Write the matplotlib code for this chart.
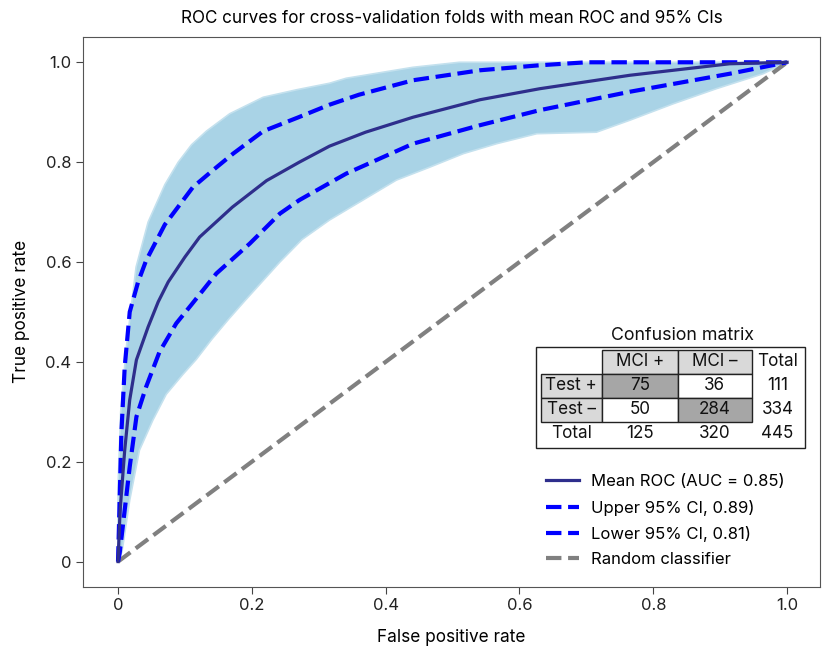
import matplotlib.pyplot as plt
from matplotlib.patches import Rectangle

plt.rcParams['font.family'] = ['Inter', 'DejaVu Sans']

# band of fold curves: outer upper-left edge and outer lower-right edge
band_up_x = [0, 0, 0.004, 0.0125, 0.027, 0.045, 0.07, 0.09, 0.11, 0.132, 0.167, 0.217, 0.267, 0.316, 0.341, 0.441, 0.51, 1.0]
band_up_y = [0, 0.15, 0.3, 0.43, 0.59, 0.68, 0.755, 0.80, 0.835, 0.862, 0.897, 0.93, 0.945, 0.958, 0.968, 0.99, 1.0, 1.0]
band_lo_x = [0, 0.006, 0.0175, 0.032, 0.052, 0.072, 0.097, 0.117, 0.14, 0.165, 0.19, 0.215, 0.242, 0.275, 0.316,
             0.366, 0.416, 0.466, 0.516, 0.566, 0.626, 0.715, 0.765, 0.83, 0.894, 0.964, 1.0]
band_lo_y = [0, 0.02, 0.123, 0.223, 0.283, 0.335, 0.375, 0.405, 0.445, 0.485, 0.523, 0.56, 0.60, 0.645, 0.684,
             0.724, 0.764, 0.79, 0.817, 0.837, 0.857, 0.86, 0.884, 0.917, 0.947, 0.977, 1.0]

# mean ROC
mean_x = [0, 0.003, 0.01, 0.0175, 0.0275, 0.045, 0.06, 0.075, 0.1, 0.122, 0.171, 0.222, 0.271, 0.316, 0.37,
          0.441, 0.541, 0.63, 0.765, 0.914, 1.0]
mean_y = [0, 0.1, 0.223, 0.324, 0.404, 0.47, 0.52, 0.56, 0.61, 0.65, 0.71, 0.763, 0.80, 0.832, 0.86,
          0.89, 0.925, 0.947, 0.974, 0.997, 1.0]

# upper 95% CI
up_x = [0, 0.002, 0.005, 0.01, 0.0175, 0.03, 0.042, 0.07, 0.112, 0.142, 0.172, 0.217, 0.27, 0.316, 0.36,
        0.441, 0.541, 0.63, 0.7, 1.0]
up_y = [0, 0.1, 0.257, 0.39, 0.5, 0.56, 0.603, 0.675, 0.75, 0.784, 0.817, 0.862, 0.89, 0.915, 0.935,
        0.964, 0.984, 0.994, 1.0, 1.0]

# lower 95% CI
lo_x = [0, 0.0025, 0.0175, 0.0275, 0.042, 0.062, 0.087, 0.11, 0.147, 0.197, 0.242, 0.271, 0.341, 0.441,
        0.541, 0.63, 0.765, 0.914, 1.0]
lo_y = [0, 0.017, 0.19, 0.29, 0.35, 0.42, 0.477, 0.515, 0.577, 0.637, 0.697, 0.724, 0.777, 0.837,
        0.874, 0.904, 0.941, 0.977, 1.0]

# confusion matrix
col_labels = ['', 'MCI +', 'MCI \u2013', 'Total']
row_labels = ['Test +', 'Test \u2013', 'Total']
counts = [[75, 36, 111],
          [50, 284, 334],
          [125, 320, 445]]

ticks = [0, 0.2, 0.4, 0.6, 0.8, 1.0]
tick_labels = ['0', '0.2', '0.4', '0.6', '0.8', '1.0']

fig = plt.figure(figsize=(8.24, 6.46), dpi=100)
ax = fig.add_axes([0.101, 0.092, 0.894, 0.851])

# fold curves band
ax.fill(band_up_x + band_lo_x[::-1], band_up_y + band_lo_y[::-1],
        color='#a9d3e6', edgecolor='#c4e1ee', linewidth=1.2, zorder=1)

ax.plot(mean_x, mean_y, color='#2e2e8c', lw=2.3, label='Mean ROC (AUC = 0.85)', zorder=4)
ax.plot(up_x, up_y, color='#0000ff', lw=3, ls='--', label='Upper 95% CI, 0.89)', zorder=3)
ax.plot(lo_x, lo_y, color='#0000ff', lw=3, ls='--', label='Lower 95% CI, 0.81)', zorder=3)
ax.plot([0, 1], [0, 1], color='#808080', lw=3, ls='--', label='Random classifier', zorder=2)

ax.set_xlim(-0.052, 1.049)
ax.set_ylim(-0.05, 1.051)
ax.set_xticks(ticks)
ax.set_xticklabels(tick_labels)
ax.set_yticks(ticks)
ax.set_yticklabels(tick_labels)
ax.tick_params(labelsize=12, length=5, color='#444444', labelcolor='#222222')
for sp in ax.spines.values():
    sp.set_color('#555555')

ax.set_title('ROC curves for cross-validation folds with mean ROC and 95% CIs', fontsize=12.3, pad=10)
ax.set_xlabel('False positive rate', fontsize=12.4, labelpad=11)
ax.set_ylabel('True positive rate', fontsize=12.4, labelpad=11)

ax.legend(loc='lower right', bbox_to_anchor=(0.972, 0.008), frameon=False, fontsize=12,
          handlelength=2.0, handletextpad=0.7, labelspacing=0.62)

# confusion matrix table
cells = [col_labels] + [[row_labels[i]] + [str(v) for v in counts[i]] for i in range(3)]
tab = ax.table(cellText=cells, cellLoc='center', bbox=[0.621, 0.256, 0.356, 0.1745],
               colWidths=[61, 76, 74, 51])
tab.auto_set_font_size(False)
tab.set_fontsize(12.3)
light = '#d9d9d9'
dark = '#a6a6a6'
for (r, c), cell in tab.get_celld().items():
    cell.set_edgecolor('#222222')
    cell.set_linewidth(1.0)
    cell.get_text().set_color('#111111')
    if r == 0 and c in (1, 2):
        cell.set_facecolor(light)
    elif r in (1, 2) and c == 0:
        cell.set_facecolor(light)
    elif (r, c) in ((1, 1), (2, 2)):
        cell.set_facecolor(dark)
    elif r in (1, 2) and c in (1, 2):
        cell.set_facecolor('white')
    else:
        cell.set_facecolor('none')
        cell.visible_edges = ''
ax.add_patch(Rectangle((0.6145, 0.2522), 0.3654, 0.1836, transform=ax.transAxes,
                       fill=False, edgecolor='#222222', lw=1.0, zorder=5))
ax.text(0.813, 0.4576, 'Confusion matrix', transform=ax.transAxes, ha='center', va='center',
        fontsize=12.8, color='#111111')

fig.savefig('out.png', dpi=100)
